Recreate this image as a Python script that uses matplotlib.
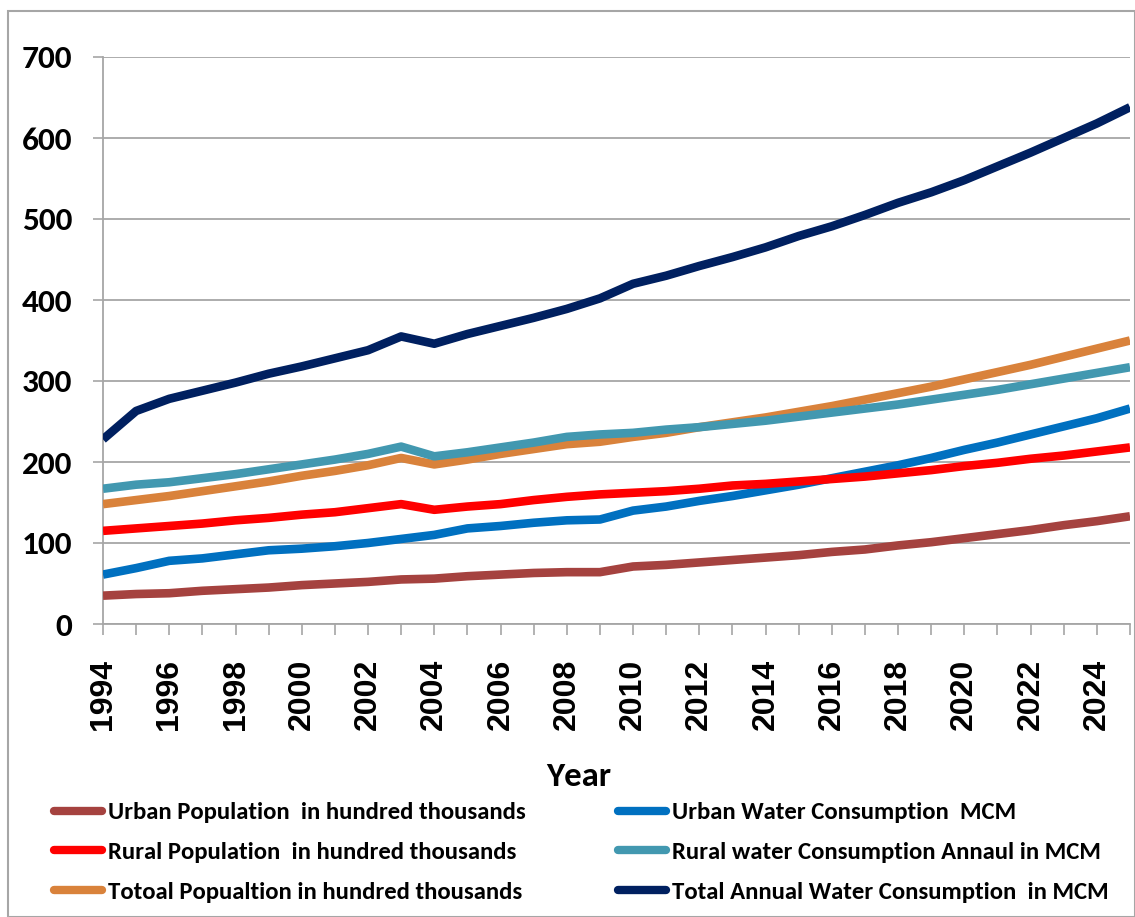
import matplotlib
matplotlib.use("Agg")
import matplotlib.pyplot as plt
from matplotlib.patches import Rectangle
from matplotlib.lines import Line2D

plt.rcParams['font.family'] = ['Carlito', 'DejaVu Sans']

years = list(range(1994, 2026))

urban_pop = [35, 37, 38, 41, 43, 45, 48, 50, 52, 55, 56, 59, 61, 63, 64, 64,
             71, 73, 76, 79, 82, 85, 89, 92, 97, 101, 106, 111, 116, 122, 127, 133]
rural_pop = [115, 118, 121, 124, 128, 131, 135, 138, 143, 148, 141, 145, 148, 153, 157, 160,
             162, 164, 167, 171, 173, 176, 179, 182, 186, 190, 195, 199, 204, 208, 213, 218]
total_pop = [148, 153, 158, 164, 170, 176, 183, 189, 196, 205, 197, 203, 210, 216, 222, 225,
             231, 236, 243, 249, 255, 262, 269, 277, 285, 293, 302, 311, 320, 330, 340, 350]
urban_water = [61, 69, 78, 81, 86, 91, 93, 96, 100, 105, 110, 118, 121, 125, 128, 129,
               140, 145, 152, 158, 165, 172, 180, 188, 196, 205, 215, 224, 234, 244, 254, 266]
rural_water = [167, 172, 175, 180, 185, 191, 197, 203, 210, 219, 207, 212, 218, 224, 231, 234,
               236, 240, 243, 247, 251, 256, 261, 266, 271, 277, 283, 289, 296, 303, 310, 317]
total_water = [228, 263, 278, 288, 298, 309, 318, 328, 338, 355, 346, 358, 368, 378, 389, 402,
               420, 430, 442, 453, 465, 479, 491, 505, 520, 533, 548, 565, 582, 600, 618, 638]

labels = ["Urban Population  in hundred thousands",
          "Rural Population  in hundred thousands",
          "Totoal Popualtion in hundred thousands",
          "Urban Water Consumption  MCM",
          "Rural water Consumption Annaul in MCM",
          "Total Annual Water Consumption  in MCM"]
colors = ["#A5423F", "#FF0000", "#D9823B", "#0070C0", "#4298B0", "#002060"]
series = [urban_pop, rural_pop, total_pop, urban_water, rural_water, total_water]

W, H = 1135, 917
fig = plt.figure(figsize=(W / 100, H / 100), dpi=100)
ax = fig.add_axes([103 / W, 1 - 624 / H, (1130 - 103) / W, (624 - 57) / H])

draw_order = [0, 3, 1, 2, 4, 5]
for i in draw_order:
    ax.plot(years, series[i], color=colors[i], lw=6.2, solid_joinstyle='round',
            solid_capstyle='butt', label=labels[i], zorder=3)

ax.set_xlim(1994, 2025)
ax.set_ylim(0, 700)
ax.set_yticks(range(0, 701, 100))
ax.set_xticks(years)
ax.set_xticklabels([str(y) if (y - 1994) % 2 == 0 else "" for y in years],
                   rotation=90, fontsize=23, fontweight='bold',
                   family=['Liberation Sans', 'DejaVu Sans'])
ax.tick_params(axis='y', labelsize=24, length=7, color='#A6A6A6', width=1.2, pad=15)
ax.tick_params(axis='x', length=8, color='#A6A6A6', width=1.2, pad=17, direction='out')
for lab in ax.get_yticklabels():
    lab.set_fontweight('bold')
ax.grid(axis='y', color='#A6A6A6', lw=1.3, zorder=0)
ax.set_axisbelow(True)
for s in ['top', 'right']:
    ax.spines[s].set_visible(False)
for s in ['left', 'bottom']:
    ax.spines[s].set_color('#A6A6A6')
    ax.spines[s].set_linewidth(1.3)

fig.text(579 / W, 1 - 776 / H, "Year", fontsize=25, fontweight='bold',
         ha='center', va='center')

leg_handles = [Line2D([0], [0], color=colors[i], lw=6, solid_capstyle='round')
               for i in range(6)]
leg = fig.legend(leg_handles, labels, ncol=2, loc='upper left',
                 bbox_to_anchor=(54 / W, 1 - 802 / H), frameon=False,
                 borderaxespad=0, borderpad=0,
                 prop={'size': 17.8, 'weight': 'bold'}, handlelength=1.95,
                 handletextpad=0.25, columnspacing=3.72, labelspacing=0.74)

fig.patches.append(Rectangle((8 / W, 0), (W - 8) / W, 1 - 11 / H,
                             transform=fig.transFigure, fill=False,
                             edgecolor='#A6A6A6', lw=1.5))

fig.savefig("out.png", dpi=100)
